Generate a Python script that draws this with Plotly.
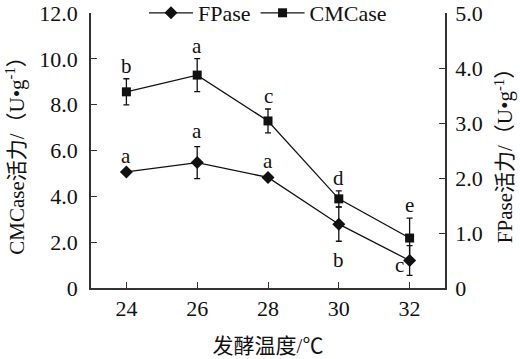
import plotly.graph_objects as go

temps = [24, 26, 28, 30, 32]
cmcase = [8.56, 9.29, 7.29, 3.89, 2.18]
cmcase_err = [0.57, 0.72, 0.52, 0.35, 0.87]
cmcase_letters = ["b", "a", "c", "d", "e"]
fpase = [2.11, 2.28, 2.01, 1.16, 0.50]
fpase_err = [0.0, 0.29, 0.0, 0.31, 0.27]
fpase_letters = ["a", "a", "a", "b", "c"]
left_ticks = [0, 2, 4, 6, 8, 10, 12]
left_ticktext = ["0", "2.0", "4.0", "6.0", "8.0", "10.0", "12.0"]
right_ticks = [0, 1, 2, 3, 4, 5]
right_ticktext = ["0", "1.0", "2.0", "3.0", "4.0", "5.0"]

FONT = "Liberation Serif, Times New Roman, Noto Sans CJK SC, serif"
BLACK = "#111111"

fig = go.Figure()
fig.add_trace(go.Scatter(
    x=temps, y=fpase, name="FPase", yaxis="y2", mode="lines+markers",
    line=dict(color=BLACK, width=1.3),
    marker=dict(symbol="diamond", size=10, color=BLACK),
    error_y=dict(type="data", array=fpase_err, color=BLACK, thickness=1.3, width=3),
))
fig.add_trace(go.Scatter(
    x=temps, y=cmcase, name="CMCase", yaxis="y", mode="lines+markers",
    line=dict(color=BLACK, width=1.3),
    marker=dict(symbol="square", size=9, color=BLACK),
    error_y=dict(type="data", array=cmcase_err, color=BLACK, thickness=1.3, width=3),
))

LF = dict(family=FONT, size=21, color=BLACK)
ann = []
for x, v, e, t in zip(temps, cmcase, cmcase_err, cmcase_letters):
    ann.append(dict(x=x, y=v + e, xref="x", yref="y", text=t, showarrow=False,
                    yanchor="bottom", yshift=-1, font=LF))
for i, (x, v, e, t) in enumerate(zip(temps, fpase, fpase_err, fpase_letters)):
    if i < 3:
        ann.append(dict(x=x, y=v + e, xref="x", yref="y2", text=t, showarrow=False,
                        yanchor="bottom", yshift=2, font=LF))
    elif i == 3:
        ann.append(dict(x=x, y=v - e, xref="x", yref="y2", text=t, showarrow=False,
                        yanchor="top", yshift=-5, font=LF))
    else:
        ann.append(dict(x=x, y=v - e, xref="x", yref="y2", text=t, showarrow=False,
                        yanchor="bottom", xanchor="center", xshift=-10, yshift=-4, font=LF))

TF = dict(family=FONT, size=21, color=BLACK)
axis_line = dict(showline=True, linecolor="#333333", linewidth=1.5, ticks="inside",
                 ticklen=6, tickcolor="#333333", tickwidth=1.3, showgrid=False, zeroline=False,
                 automargin=False, tickfont=dict(family=FONT, size=22, color=BLACK))

fig.update_layout(
    width=520, height=359,
    margin=dict(l=91, r=75, t=13, b=71, autoexpand=False),
    paper_bgcolor="white", plot_bgcolor="white",
    font=dict(family=FONT, color=BLACK),
    showlegend=True,
    legend=dict(orientation="h", x=0.5, xanchor="center", y=1.0, yanchor="middle",
                font=dict(family=FONT, size=22, color=BLACK), bgcolor="rgba(0,0,0,0)",
                itemwidth=44, tracegroupgap=0),
    xaxis=dict(range=[23, 33], tickvals=temps, ticktext=[str(t) for t in temps],
               title=dict(text="发酵温度/℃", font=TF, standoff=18),
               **axis_line),
    yaxis=dict(range=[0, 12], tickvals=left_ticks, ticktext=left_ticktext, ticklabelstandoff=7,
               title=dict(text="CMCase活力/（U•g<sup>-1</sup>）", font=TF, standoff=9),
               **axis_line),
    yaxis2=dict(range=[0, 5], tickvals=right_ticks, ticktext=right_ticktext, overlaying="y", side="right",
                ticklabelstandoff=4,
                title=dict(text="FPase活力/（U•g<sup>-1</sup>）", font=TF, standoff=16),
                **axis_line),
    annotations=ann,
)

fig.write_html("out.html", config={"displayModeBar": False},
               post_script="document.body.style.margin='0';document.body.style.padding='0';")
